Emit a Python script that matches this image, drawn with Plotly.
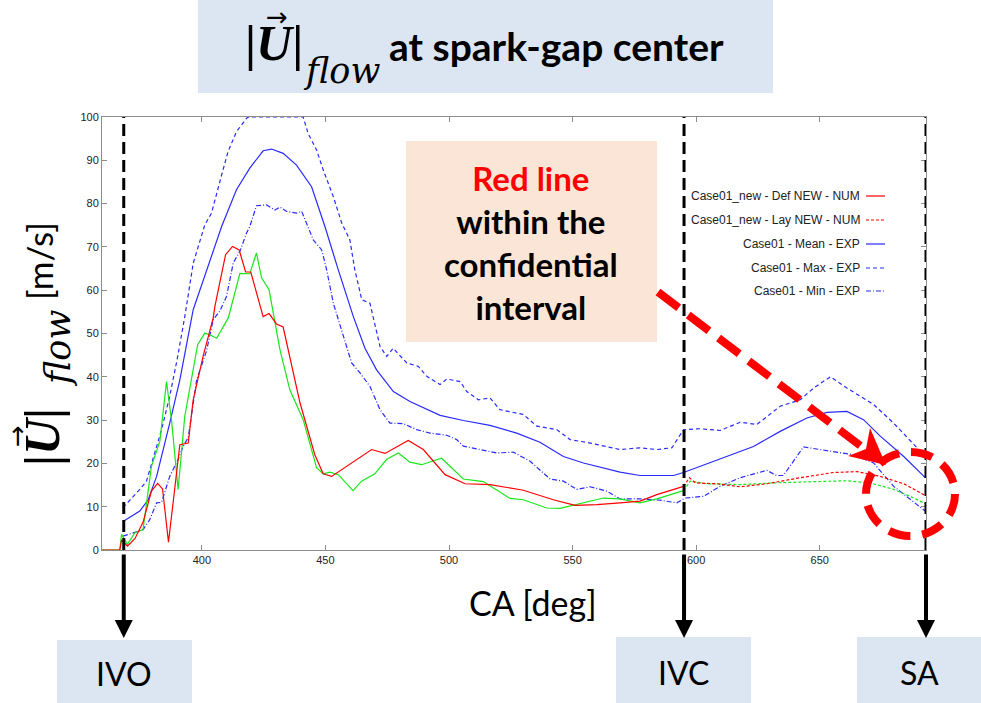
import plotly.graph_objects as go

# ---- data: flow velocity magnitude at spark-gap centre vs crank angle ----
def_num_x = [359.6, 366.8, 367.5, 369.9, 372.9, 376.2, 379.6, 382.1, 384.1, 386.5, 391.1, 394.5,
             396.5, 400.5, 404.6, 405.3, 409.6, 412.4, 415.1, 417.7, 419.8, 424.8, 427.2, 430.2,
             432.9, 436.3, 439.7, 445.7, 449.1, 452.5, 460.6, 468.7, 474.1, 483.5, 489.6, 498.4,
             506.5, 516.6, 530.1, 542.2, 551.0, 559.8, 569.2, 577.3, 584.1, 590.8, 594.9]
def_num_y = [0, 0, 2.3, 0.9, 2.6, 6.4, 13.6, 15.4, 14.1, 1.8, 24.3, 24.7,
             34.7, 44.7, 53.6, 56.3, 68.2, 70.1, 69.3, 64.2, 64.2, 53.9, 54.6, 52.2,
             51.5, 42.8, 34.0, 22.0, 17.6, 17.0, 20.1, 23.2, 22.3, 25.3, 23.2, 17.4,
             15.3, 15.1, 13.8, 11.6, 10.3, 10.5, 10.9, 11.3, 12.8, 14.0, 14.7]

lay_num_x = [594.9, 597.3, 599.6, 608.4, 617.8, 628.6, 642.1, 655.6, 665.1, 674.5, 684.0, 692.7]
lay_num_y = [14.7, 16.7, 15.5, 15.3, 14.6, 15.3, 16.7, 17.9, 18.1, 17.0, 15.3, 12.6]

green_x = [359.6, 366.8, 367.5, 369.9, 372.9, 376.2, 379.6, 383.0, 385.7, 387.7, 390.4, 393.1,
           398.3, 401.2, 403.2, 406.0, 410.7, 415.4, 419.4, 422.1, 424.2, 427.2, 431.6, 435.6,
           441.0, 446.4, 449.1, 451.8, 455.2, 461.2, 464.6, 470.0, 474.7, 479.5, 484.2, 488.9,
           497.0, 505.8, 513.9, 524.7, 530.1, 539.5, 544.9, 554.4, 562.5, 569.2, 577.3, 584.1,
           590.8, 594.9]
green_y = [0, 0, 3.6, 1.3, 4.0, 4.7, 19.3, 25.1, 38.9, 30.1, 14.0, 30.9,
           47.4, 50.1, 49.7, 48.9, 53.6, 63.9, 63.8, 68.6, 62.8, 60.1, 46.3, 37.0,
           30.1, 19.0, 17.6, 18.0, 17.4, 13.7, 15.9, 17.6, 20.9, 22.4, 20.3, 19.7,
           21.2, 16.4, 15.8, 11.9, 11.6, 9.7, 9.6, 10.9, 12.0, 11.8, 10.9, 11.8,
           13.0, 13.7]

green_dash_x = [594.9, 597.6, 604.3, 617.8, 631.3, 644.8, 661.0, 670.4, 679.9, 686.6, 692.7]
green_dash_y = [13.7, 15.9, 15.3, 15.1, 15.5, 15.7, 16.0, 15.5, 14.0, 12.4, 10.7]

mean_x = [368.1, 374.9, 378.3, 381.7, 387.0, 391.1, 396.5, 402.6, 408.0, 414.0, 419.4, 424.8,
          428.2, 432.9, 438.3, 444.4, 449.8, 455.2, 461.3, 466.0, 470.7, 477.5, 484.2, 496.4,
          505.8, 516.6, 527.4, 536.8, 546.3, 554.4, 569.2, 577.3, 590.8, 594.9, 601.6, 611.1,
          623.2, 634.0, 644.8, 652.9, 661.0, 667.7, 674.5, 684.0, 692.7]
mean_y = [6.6, 9.0, 11.6, 17.0, 29.3, 39.3, 55.5, 65.5, 74.7, 83.2, 88.2, 92.2,
          92.6, 91.6, 88.9, 83.9, 74.7, 64.7, 53.9, 46.6, 41.6, 36.6, 34.3, 31.1,
          29.9, 28.8, 27.0, 24.9, 21.6, 20.1, 18.0, 17.2, 17.2, 17.9, 19.3, 21.4,
          23.9, 27.4, 30.5, 31.8, 32.0, 30.1, 26.3, 21.6, 16.7]

max_x = [368.1, 371.0, 374.9, 377.6, 380.3, 383.7, 387.0, 390.0, 393.1, 396.5, 401.2, 403.9,
         408.0, 410.6, 414.0, 418.1, 419.0, 441.0, 443.0, 446.4, 449.1, 453.2, 456.6, 459.9,
         461.9, 464.7, 468.0, 472.1, 474.8, 477.4, 482.9, 487.6, 491.0, 496.4, 499.1, 504.5,
         507.2, 511.9, 516.6, 520.6, 530.1, 535.5, 543.6, 549.0, 557.1, 569.2, 577.3, 584.1,
         590.2, 594.9, 601.6, 609.7, 617.8, 624.6, 634.0, 642.1, 647.5, 654.3, 661.0, 671.8,
         679.9, 692.7]
max_y = [9.8, 11.5, 14.0, 15.9, 21.3, 27.8, 35.5, 44.0, 53.9, 66.2, 75.1, 77.8,
         86.6, 92.0, 96.6, 99.7, 100.0, 100.0, 96.2, 92.4, 87.8, 81.6, 75.5, 71.6,
         64.7, 57.8, 57.0, 47.0, 44.7, 46.6, 43.2, 42.4, 40.1, 38.2, 39.5, 38.9,
         36.6, 34.7, 35.1, 32.4, 31.3, 28.6, 27.8, 25.5, 24.7, 23.2, 23.6, 23.2,
         23.6, 27.8, 28.0, 27.6, 29.5, 29.0, 33.2, 34.7, 37.4, 40.0, 37.4, 33.6,
         29.3, 21.6]

min_x = [368.1, 373.0, 376.2, 378.9, 381.7, 383.7, 387.0, 390.4, 392.4, 394.5, 397.9, 401.9,
         404.6, 407.3, 410.0, 412.7, 415.4, 418.1, 419.4, 422.1, 426.2, 429.6, 431.6, 434.3,
         438.3, 440.4, 442.4, 445.1, 448.5, 450.5, 453.2, 457.2, 460.6, 464.0, 468.0, 472.1,
         476.1, 481.5, 486.9, 492.3, 499.1, 503.1, 505.8, 512.6, 519.3, 526.0, 532.8, 540.9,
         546.3, 551.7, 557.1, 563.8, 569.2, 577.3, 585.4, 592.2, 595.5, 603.0, 609.7, 617.8,
         628.6, 632.6, 635.3, 643.4, 650.2, 655.6, 663.7, 671.8, 679.9, 692.7]
min_y = [3.2, 4.0, 4.7, 7.0, 10.9, 11.0, 17.0, 20.9, 23.9, 26.0, 39.3, 46.0,
         53.2, 55.2, 58.6, 66.3, 69.0, 73.2, 74.7, 79.5, 79.7, 78.5, 79.2, 78.2,
         77.8, 78.2, 75.5, 71.6, 69.3, 64.7, 57.0, 49.3, 43.2, 40.9, 37.8, 32.4,
         29.3, 29.2, 27.8, 27.0, 26.5, 25.5, 24.0, 23.2, 22.4, 22.6, 20.5, 16.4,
         15.9, 14.0, 14.6, 13.6, 11.8, 11.8, 11.5, 10.9, 12.0, 12.4, 14.7, 16.7,
         18.4, 17.2, 17.2, 23.8, 23.2, 22.8, 22.0, 20.1, 14.7, 9.0]

event_names = ["IVO", "IVC", "SA"]
event_ca = [368.4, 595.1, 693.0]

x_ticks = [400, 450, 500, 550, 600, 650]
y_ticks = [0, 10, 20, 30, 40, 50, 60, 70, 80, 90, 100]

legend_names = ["Case01_new - Def NEW - NUM", "Case01_new - Lay NEW - NUM",
                "Case01 - Mean - EXP", "Case01 - Max - EXP", "Case01 - Min - EXP"]

# ---- page geometry (pixels) ----
W, H = 981, 703
L, R, T, B = 102, 926, 117, 550


def fx(p):
    return (p - L) / (R - L)


def fy(p):
    return (B - p) / (B - T)


def label(x, y, text, family="Lato", size=30, color="black", angle=0, xanchor="center"):
    """Free text placed by page pixel position, centred on that point."""
    return dict(xref="paper", yref="paper", x=fx(x), y=fy(y), text=text, showarrow=False,
                xanchor=xanchor, yanchor="middle", textangle=angle,
                font=dict(family=family, size=size, color=color))


RED = "#ff0000"
GREEN = "#19e619"
BLUE = "#2a2aff"
LW = 1.2

styles = {
    "def": dict(color=RED, width=LW),
    "lay": dict(color=RED, width=LW, dash="3px,2px"),
    "mean": dict(color=BLUE, width=LW),
    "max": dict(color=BLUE, width=LW, dash="4px,3px"),
    "min": dict(color=BLUE, width=LW, dash="5px,2px,1px,2px"),
}

fig = go.Figure()
fig.add_trace(go.Scatter(x=max_x, y=max_y, mode="lines", line=styles["max"], name=legend_names[3]))
fig.add_trace(go.Scatter(x=mean_x, y=mean_y, mode="lines", line=styles["mean"], name=legend_names[2]))
fig.add_trace(go.Scatter(x=min_x, y=min_y, mode="lines", line=styles["min"], name=legend_names[4]))
fig.add_trace(go.Scatter(x=green_x, y=green_y, mode="lines", line=dict(color=GREEN, width=LW)))
fig.add_trace(go.Scatter(x=green_dash_x, y=green_dash_y, mode="lines",
                         line=dict(color=GREEN, width=LW, dash="3px,2px")))
fig.add_trace(go.Scatter(x=def_num_x, y=def_num_y, mode="lines", line=styles["def"], name=legend_names[0]))
fig.add_trace(go.Scatter(x=lay_num_x, y=lay_num_y, mode="lines", line=styles["lay"], name=legend_names[1]))

shapes = []
annotations = []

# title banner
shapes.append(dict(type="rect", xref="paper", yref="paper", x0=fx(198), x1=fx(773), y0=fy(93), y1=fy(0),
                   fillcolor="#dce6f2", line=dict(width=0), layer="below"))
annotations.append(label(274, 43, "<b>|<i>U</i>|</b>", family="Liberation Serif", size=50))
annotations.append(label(277, 17, "\u2192", family="DejaVu Sans", size=26))
annotations.append(label(341, 71, "<i>flow</i>", family="DejaVu Serif", size=35))
annotations.append(label(556, 46, "<b>at spark-gap center</b>", size=39))

# y axis label (rotated pieces)
annotations.append(label(42, 437, "<b>|<i>U</i>|</b>", family="Liberation Serif", size=50, angle=-90))
annotations.append(label(17, 436, "\u2192", family="DejaVu Sans", size=26, angle=-90))
annotations.append(label(58, 349, "<i>flow</i>", family="DejaVu Serif", size=35, angle=-90))
annotations.append(label(39, 261, "[m/s]", size=35, angle=-90))

# x axis label
annotations.append(label(533, 602, "CA [deg]", size=34))

# engine events: dashed markers, arrows and boxes
box_px = {"IVO": (57, 192, 640), "IVC": (616, 751, 637), "SA": (857, 981, 637)}
text_cx = {"IVO": 124, "IVC": 683, "SA": 919}
for name, ca in zip(event_names, event_ca):
    shapes.append(dict(type="line", xref="x", yref="paper", x0=ca, x1=ca, y0=0, y1=1,
                       line=dict(color="black", width=3, dash="12px,6px")))
    annotations.append(dict(xref="x", yref="paper", x=ca, y=fy(638), ax=0, ay=-85, text="",
                            showarrow=True, arrowhead=2, arrowsize=0.9, arrowwidth=4, arrowcolor="black"))
    x0, x1, top = box_px[name]
    shapes.append(dict(type="rect", xref="paper", yref="paper", x0=fx(x0), x1=fx(x1), y0=fy(H), y1=fy(top),
                       fillcolor="#dce6f2", line=dict(width=0), layer="below"))
    annotations.append(label(text_cx[name], (top + H) / 2 + 2, name, size=32))

# call-out box
shapes.append(dict(type="rect", xref="paper", yref="paper", x0=fx(406), x1=fx(657), y0=fy(342), y1=fy(141),
                   fillcolor="#fbe5d6", line=dict(width=0)))
annotations.append(label(531, 242,
                         "<b><span style='color:#ff0000'>Red line</span><br>within the<br>confidential<br>interval</b>",
                         size=33))

# red dashed pointer and ellipse
shapes.append(dict(type="line", xref="paper", yref="paper", x0=fx(658), y0=fy(292), x1=fx(866), y1=fy(450),
                   line=dict(color=RED, width=8, dash="26px,12px")))
tri = [(886, 465), (848, 456), (866, 449), (870, 428)]
path = "M " + " L ".join(f"{fx(a):.5f},{fy(b):.5f}" for a, b in tri) + " Z"
shapes.append(dict(type="path", xref="paper", yref="paper", path=path, fillcolor=RED, line=dict(width=0)))
shapes.append(dict(type="circle", xref="paper", yref="paper", x0=fx(866), x1=fx(955), y0=fy(536), y1=fy(452),
                   line=dict(color=RED, width=8, dash="22px,12px")))

# legend (text right-aligned, sample line on the right)
leg_rows = [196, 220, 244, 268, 291]
leg_keys = ["def", "lay", "mean", "max", "min"]
for name, key, row in zip(legend_names, leg_keys, leg_rows):
    annotations.append(label(862, row, name, family="Liberation Sans", size=12, color="#222", xanchor="right"))
    shapes.append(dict(type="line", xref="paper", yref="paper", x0=fx(866), x1=fx(885), y0=fy(row), y1=fy(row),
                       line=dict(styles[key])))

axis_common = dict(showline=True, linecolor="#8c8c8c", linewidth=1, mirror="ticks", ticks="inside",
                   ticklen=5, tickcolor="#8c8c8c", showgrid=False, zeroline=False,
                   tickfont=dict(family="Liberation Sans", size=11, color="#222"))

fig.update_layout(
    width=W, height=H,
    margin=dict(l=L, r=W - R, t=T, b=H - B),
    paper_bgcolor="white", plot_bgcolor="white",
    showlegend=False,
    xaxis=dict(range=[359.6, 693.0], tickvals=x_ticks, **axis_common),
    yaxis=dict(range=[0, 100], tickvals=y_ticks, **axis_common),
    shapes=shapes,
    annotations=annotations,
)

fig.write_html("out.html")
